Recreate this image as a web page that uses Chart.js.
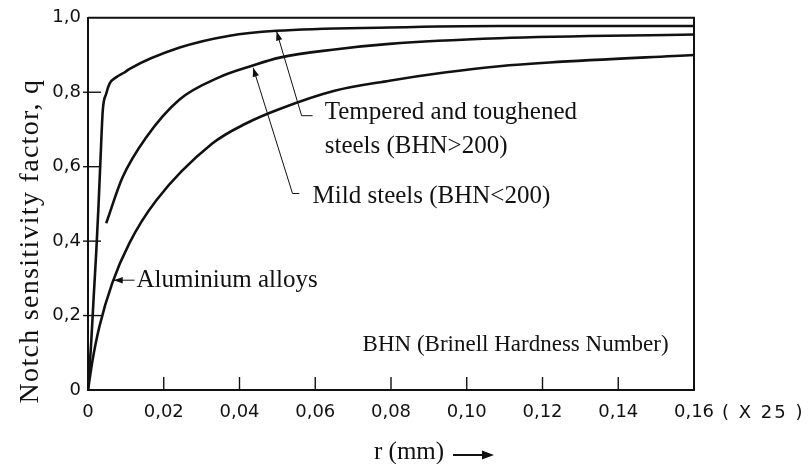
<!DOCTYPE html>
<html>
<head>
<meta charset="utf-8">
<script src="https://cdn.jsdelivr.net/npm/chart.js@4.4.1/dist/chart.umd.min.js"></script>
<style>
  html, body { margin: 0; padding: 0; background: #ffffff; }
  canvas { display: block; }
</style>
</head>
<body>
<canvas id="chart" width="809" height="464"></canvas>
<script>
// Axis ticks and their printed labels (decimal comma)
const xTicks = [0, 0.02, 0.04, 0.06, 0.08, 0.10, 0.12, 0.14, 0.16];
const xTickLabels = ['0', '0,02', '0,04', '0,06', '0,08', '0,10', '0,12', '0,14', '0,16'];
const yTicks = [0, 0.2, 0.4, 0.6, 0.8, 1.0];
const yTickLabels = ['0', '0,2', '0,4', '0,6', '0,8', '1,0'];

// Notch radius r (mm) and notch sensitivity q for each material group
const temperedR = [0, 0.0008, 0.0015, 0.0022, 0.0028, 0.0033, 0.0039, 0.0048, 0.0057, 0.0074, 0.0096, 0.011, 0.0242, 0.0374, 0.0498, 0.0796, 0.1086, 0.16];
const temperedQ = [0, 0.12, 0.25, 0.375, 0.50, 0.62, 0.751, 0.796, 0.823, 0.840, 0.853, 0.863, 0.920, 0.952, 0.965, 0.974, 0.978, 0.978];

const mildR = [0.0048, 0.0091, 0.0153, 0.0241, 0.0346, 0.0433, 0.0506, 0.0651, 0.0796, 0.1086, 0.16];
const mildQ = [0.448, 0.571, 0.678, 0.780, 0.840, 0.871, 0.893, 0.915, 0.930, 0.945, 0.955];

const alumR = [0, 0.0012, 0.003, 0.0064, 0.0109, 0.018, 0.0328, 0.0417, 0.0506, 0.0651, 0.0796, 0.0941, 0.1086, 0.1218, 0.16];
const alumQ = [0, 0.08, 0.17, 0.287, 0.394, 0.509, 0.662, 0.716, 0.755, 0.804, 0.831, 0.853, 0.870, 0.880, 0.900];

const ink = '#111111';
const serif = '"Liberation Serif", "Times New Roman", serif';
const sans = '"DejaVu Sans", sans-serif';

const toPoints = (rs, qs) => rs.map((r, i) => ({ x: r, y: qs[i] }));

// Callouts: leader path in data units (first point is the arrow tip on the curve)
const callouts = [
  { lines: ['Tempered and toughened', 'steels (BHN>200)'],
    path: [[0.0498, 0.963], [0.0564, 0.737], [0.0593, 0.737]],
    text: [0.0625, 0.745], lineGap: 34, arrow: true },
  { lines: ['Mild steels (BHN<200)'],
    path: [[0.0436, 0.866], [0.0540, 0.528], [0.0558, 0.528]],
    text: [0.0593, 0.520], lineGap: 0, arrow: true },
  { lines: ['Aluminium alloys'],
    path: [[0.0068, 0.295], [0.0123, 0.295]],
    text: [0.0128, 0.295], lineGap: 0, arrow: true },
  { lines: ['BHN (Brinell Hardness Number)'],
    path: [], text: [0.0725, 0.121], lineGap: 0, arrow: false, size: 23 }
];

function line(ctx, x1, y1, x2, y2) {
  ctx.beginPath(); ctx.moveTo(x1, y1); ctx.lineTo(x2, y2); ctx.stroke();
}

const decorations = {
  id: 'decorations',
  afterDraw(chart) {
    const { ctx, chartArea: a, scales: { x, y } } = chart;
    ctx.save();
    ctx.strokeStyle = ink;
    ctx.fillStyle = ink;

    // closing frame: top and right edges
    ctx.lineWidth = 2;
    ctx.beginPath();
    ctx.moveTo(a.left, a.top);
    ctx.lineTo(a.right, a.top);
    ctx.lineTo(a.right, a.bottom);
    ctx.stroke();

    // tick marks drawn across / inside the axes
    ctx.lineWidth = 1.4;
    yTicks.forEach((v, i) => {
      if (i === 0 || i === yTicks.length - 1) return;
      const py = y.getPixelForValue(v);
      line(ctx, a.left - 5, py, a.left + 13, py);
    });
    xTicks.forEach((v, i) => {
      if (i === 0 || i === xTicks.length - 1) return;
      const px = x.getPixelForValue(v);
      line(ctx, px, a.bottom, px, a.bottom - 13);
    });

    // callouts with leader lines
    callouts.forEach(c => {
      const pts = c.path.map(p => [x.getPixelForValue(p[0]), y.getPixelForValue(p[1])]);
      if (pts.length > 1) {
        ctx.lineWidth = 1;
        ctx.beginPath();
        ctx.moveTo(pts[0][0], pts[0][1]);
        pts.slice(1).forEach(p => ctx.lineTo(p[0], p[1]));
        ctx.stroke();
        if (c.arrow) {
          const [tx, ty] = pts[0], [nx, ny] = pts[1];
          const ang = Math.atan2(ty - ny, tx - nx);
          const len = 9, half = 3.2;
          ctx.beginPath();
          ctx.moveTo(tx, ty);
          ctx.lineTo(tx - len * Math.cos(ang) + half * Math.sin(ang), ty - len * Math.sin(ang) - half * Math.cos(ang));
          ctx.lineTo(tx - len * Math.cos(ang) - half * Math.sin(ang), ty - len * Math.sin(ang) + half * Math.cos(ang));
          ctx.closePath();
          ctx.fill();
        }
      }
      ctx.font = (c.size || 25) + 'px ' + serif;
      ctx.textAlign = 'left';
      ctx.textBaseline = 'middle';
      const tx = x.getPixelForValue(c.text[0]);
      const ty = y.getPixelForValue(c.text[1]);
      c.lines.forEach((s, i) => ctx.fillText(s, tx, ty + i * c.lineGap));
    });

    // scale factor note after the last x label
    ctx.font = '18px ' + sans;
    ctx.letterSpacing = '2px';
    ctx.textAlign = 'left';
    ctx.textBaseline = 'middle';
    ctx.fillText('( X 25 )', a.right + 28, a.bottom + 23);
    ctx.letterSpacing = '0px';

    // x-axis title with arrow
    ctx.font = '25px ' + serif;
    ctx.textAlign = 'left';
    ctx.fillText('r (mm)', 374, a.bottom + 62);
    ctx.lineWidth = 2;
    line(ctx, 453, a.bottom + 65, 484, a.bottom + 65);
    ctx.beginPath();
    ctx.moveTo(494, a.bottom + 65);
    ctx.lineTo(482, a.bottom + 60.5);
    ctx.lineTo(482, a.bottom + 69.5);
    ctx.closePath();
    ctx.fill();

    // y-axis title
    ctx.save();
    ctx.translate(31, 241);
    ctx.rotate(-Math.PI / 2);
    ctx.font = '28px ' + serif;
    ctx.letterSpacing = '1.3px';
    ctx.textAlign = 'center';
    ctx.textBaseline = 'middle';
    ctx.fillText('Notch sensitivity factor, q', 0, 0);
    ctx.restore();

    ctx.restore();
  }
};

const curveStyle = {
  borderColor: ink,
  borderWidth: 2.6,
  pointRadius: 0,
  fill: false,
  cubicInterpolationMode: 'monotone'
};

new Chart(document.getElementById('chart'), {
  type: 'line',
  data: {
    datasets: [
      Object.assign({ label: 'Tempered and toughened steels (BHN>200)', data: toPoints(temperedR, temperedQ) }, curveStyle),
      Object.assign({ label: 'Mild steels (BHN<200)', data: toPoints(mildR, mildQ) }, curveStyle),
      Object.assign({ label: 'Aluminium alloys', data: toPoints(alumR, alumQ) }, curveStyle)
    ]
  },
  options: {
    responsive: false,
    animation: false,
    layout: { padding: { top: 16, right: 115, left: 0, bottom: 0 } },
    plugins: { legend: { display: false }, tooltip: { enabled: false } },
    scales: {
      x: {
        type: 'linear',
        min: 0,
        max: 0.16,
        afterBuildTicks: s => { s.ticks = xTicks.map(v => ({ value: v })); },
        afterFit: s => { s.height = 74; },
        grid: { display: false, drawTicks: false },
        border: { display: true, color: ink, width: 2 },
        ticks: {
          color: ink,
          font: { family: sans, size: 18 },
          padding: 12,
          maxRotation: 0,
          autoSkip: false,
          callback: (v, i) => xTickLabels[i]
        }
      },
      y: {
        type: 'linear',
        min: 0,
        max: 1.0,
        afterBuildTicks: s => { s.ticks = yTicks.map(v => ({ value: v })); },
        afterFit: s => { s.width = 88; },
        grid: { display: false, drawTicks: false },
        border: { display: true, color: ink, width: 2 },
        ticks: {
          color: ink,
          font: { family: sans, size: 18 },
          padding: 7,
          autoSkip: false,
          callback: (v, i) => yTickLabels[i]
        }
      }
    }
  },
  plugins: [decorations]
});
</script>
</body>
</html>
